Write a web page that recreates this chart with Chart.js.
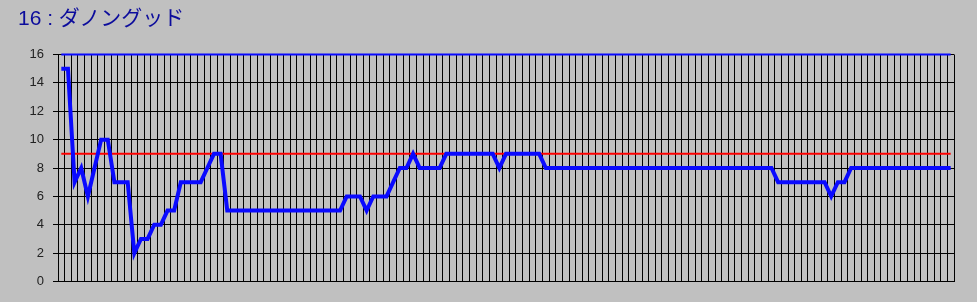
<!DOCTYPE html>
<html>
<head>
<meta charset="utf-8">
<script src="https://cdn.jsdelivr.net/npm/chart.js@4/dist/chart.umd.min.js"></script>
<style>
  body { margin: 0; background: #c0c0c0; }
  #wrap { position: relative; width: 977px; height: 302px; }
  #title {
    position: absolute; left: 18px; top: 1px;
    font-family: "Liberation Sans", "Noto Sans CJK JP", sans-serif;
    font-size: 21px; color: #0c0c9c; white-space: nowrap;
  }
  canvas { position: absolute; left: 0; top: 0; }
</style>
</head>
<body>
<div id="wrap">
  <canvas id="myChart" width="977" height="302"></canvas>
  <div id="title">16 : ダノングッド</div>
</div>
<script>
'use strict';
// ---------- data ------------- //
let rankValues = [
  15, 15, 7, 8, 6, 8, 10, 10, 7, 7, 7, 2, 3, 3, 4, 4, 5, 5, 7, 7, 7, 7, 8, 9, 9,
  5, 5, 5, 5, 5, 5, 5, 5, 5, 5, 5, 5, 5, 5, 5, 5, 5, 5,
  6, 6, 6, 5, 6, 6, 6, 7, 8, 8, 9, 8, 8, 8, 8,
  9, 9, 9, 9, 9, 9, 9, 9, 8, 9, 9, 9, 9, 9, 9,
  8, 8, 8, 8, 8, 8, 8, 8, 8, 8, 8, 8, 8, 8, 8, 8, 8, 8, 8, 8, 8, 8, 8, 8, 8, 8, 8, 8, 8, 8, 8, 8, 8, 8, 8,
  7, 7, 7, 7, 7, 7, 7, 7, 6, 7, 7,
  8, 8, 8, 8, 8, 8, 8, 8, 8, 8, 8, 8, 8, 8, 8, 8
];
let categories = rankValues.map((v, i) => String(i + 1));
let yTicks = [0, 2, 4, 6, 8, 10, 12, 14, 16];
let topLineValue = 16;
let redLineValue = 9;

let topLine = categories.map(() => topLineValue);
let redLine = categories.map(() => redLineValue);

// ---------- chart ------------- //
let chartObject = {
  type: 'line',
  data: {
    labels: categories,
    datasets: [{
      data: rankValues,
      borderColor: '#0a0aff',
      borderWidth: 4,
      pointRadius: 0,
      tension: 0,
      clip: false
    },
    {
      data: redLine,
      borderColor: '#ff0000',
      borderWidth: 2,
      pointRadius: 0,
      clip: false
    },
    {
      data: topLine,
      borderColor: '#0a0aff',
      borderWidth: 2,
      pointRadius: 0,
      clip: false
    }]
  },
  options: {
    responsive: false,
    animation: false,
    layout: { padding: { left: 0, top: 54.5, right: 23, bottom: 20.5 } },
    plugins: { legend: { display: false }, tooltip: { enabled: false } },
    scales: {
      x: {
        offset: true,
        grid: { offset: true, color: '#000', lineWidth: 1, drawTicks: false },
        border: { color: '#000' },
        ticks: { display: false },
        afterFit: (scale) => { scale.height = 0; }
      },
      y: {
        min: 0,
        max: 16,
        afterBuildTicks: (scale) => { scale.ticks = yTicks.map(v => ({ value: v })); },
        grid: { color: '#000', lineWidth: 1, tickLength: 5 },
        border: { color: '#000' },
        ticks: {
          padding: 9,
          color: '#222',
          font: { family: 'Liberation Sans', size: 13 }
        },
        afterFit: (scale) => { scale.width = 58; }
      }
    }
  }
};

let ctx = document.getElementById('myChart').getContext('2d');
let myChart = new Chart(ctx, chartObject);
</script>
</body>
</html>
